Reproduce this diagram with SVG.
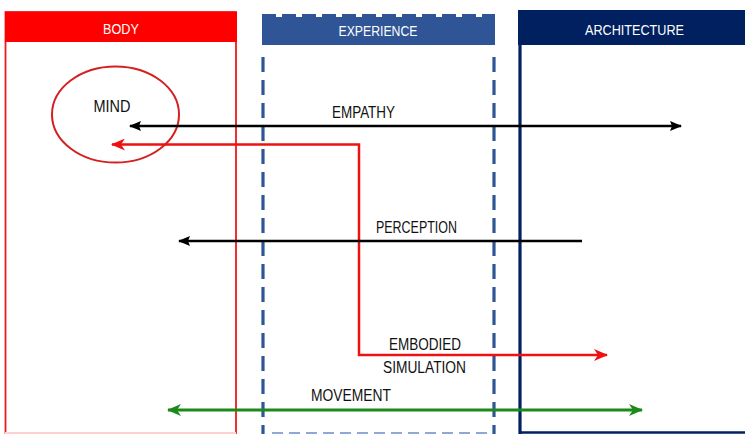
<svg xmlns="http://www.w3.org/2000/svg" width="745" height="434" viewBox="0 0 745 434">
  <style>
    .lbl { font-family: "Liberation Sans", Arial, sans-serif; font-size: 16px; fill: #111; }
    .hdr { font-family: "Liberation Sans", Arial, sans-serif; font-size: 15px; fill: #ffffff; }
    .conn { fill: none; }
  </style>
  <defs>
    <marker id="ahBlack" viewBox="0 0 12 12" refX="11" refY="6" markerWidth="12" markerHeight="12" markerUnits="userSpaceOnUse" orient="auto-start-reverse">
      <path d="M0,1 L12,6 L0,11 L2,6 z" fill="#000"/>
    </marker>
    <marker id="ahRed" viewBox="0 0 14 12" refX="13" refY="6" markerWidth="14" markerHeight="12" markerUnits="userSpaceOnUse" orient="auto-start-reverse">
      <path d="M0,0 L14,6 L0,12 L4,6 z" fill="#EE1111"/>
    </marker>
    <marker id="ahGreen" viewBox="0 0 14 12" refX="13" refY="6" markerWidth="14" markerHeight="12" markerUnits="userSpaceOnUse" orient="auto-start-reverse">
      <path d="M0,0 L14,6 L0,12 L4,6 z" fill="#1A8A1A"/>
    </marker>
  </defs>
  <rect width="745" height="434" fill="#ffffff"/>

  <g id="body">
    <rect x="5.5" y="12" width="230.5" height="421" fill="none" stroke="#F21818" stroke-width="1.8"/>
    <line x1="5" y1="433" x2="236" y2="433" stroke="#FFD0D0" stroke-width="2"/>
    <rect x="5" y="12" width="232" height="30" fill="#FF0000"/>
    <text class="hdr" x="121" y="34" text-anchor="middle" textLength="36" lengthAdjust="spacingAndGlyphs">BODY</text>
  </g>

  <g id="experience">
    <rect x="262" y="17" width="233" height="28" fill="#2F5597"/>
    <line x1="262" y1="15.5" x2="495" y2="15.5" stroke="#2F5597" stroke-width="3" stroke-dasharray="14 6"/>
    <line x1="263" y1="57" x2="263" y2="434" stroke="#2F5597" stroke-width="3.2" stroke-dasharray="15 8"/>
    <line x1="494" y1="57" x2="494" y2="434" stroke="#2F5597" stroke-width="3.2" stroke-dasharray="15 8"/>
    <line x1="272" y1="433" x2="490" y2="433" stroke="#8FA8D8" stroke-width="2" stroke-dasharray="11 6"/>
    <text class="hdr" x="378" y="36" text-anchor="middle" textLength="79" lengthAdjust="spacingAndGlyphs">EXPERIENCE</text>
  </g>

  <g id="architecture">
    <rect x="518" y="10" width="227" height="35" fill="#002060"/>
    <line x1="520" y1="44" x2="520" y2="434" stroke="#002060" stroke-width="3.2"/>
    <line x1="520" y1="432.5" x2="745" y2="432.5" stroke="#002060" stroke-width="2.5"/>
    <text class="hdr" x="634.5" y="35" text-anchor="middle" textLength="99" lengthAdjust="spacingAndGlyphs">ARCHITECTURE</text>
  </g>

  <g id="mind">
    <ellipse cx="115.5" cy="114.5" rx="63.5" ry="48" fill="none" stroke="#D42020" stroke-width="2"/>
    <text class="lbl" x="112" y="112" text-anchor="middle" textLength="37" lengthAdjust="spacingAndGlyphs">MIND</text>
  </g>

  <g id="connectors">
    <path class="conn" d="M130,126 H681" stroke="#000" stroke-width="2.5" marker-start="url(#ahBlack)" marker-end="url(#ahBlack)"/>
    <path class="conn" d="M112,144.5 H359 V355 H607" stroke="#EE1111" stroke-width="2.5" marker-start="url(#ahRed)" marker-end="url(#ahRed)"/>
    <path class="conn" d="M582,241 H179" stroke="#000" stroke-width="2.5" marker-end="url(#ahBlack)"/>
    <path class="conn" d="M168,410 H642" stroke="#1A8A1A" stroke-width="3" marker-start="url(#ahGreen)" marker-end="url(#ahGreen)"/>
  </g>

  <g id="labels">
    <text class="lbl" x="363.5" y="118" text-anchor="middle" textLength="63" lengthAdjust="spacingAndGlyphs">EMPATHY</text>
    <text class="lbl" x="416.5" y="233" text-anchor="middle" textLength="81" lengthAdjust="spacingAndGlyphs">PERCEPTION</text>
    <text class="lbl" x="425" y="350" text-anchor="middle" textLength="72" lengthAdjust="spacingAndGlyphs">EMBODIED</text>
    <text class="lbl" x="424.5" y="373" text-anchor="middle" textLength="83" lengthAdjust="spacingAndGlyphs">SIMULATION</text>
    <text class="lbl" x="351" y="401" text-anchor="middle" textLength="80" lengthAdjust="spacingAndGlyphs">MOVEMENT</text>
  </g>
</svg>
